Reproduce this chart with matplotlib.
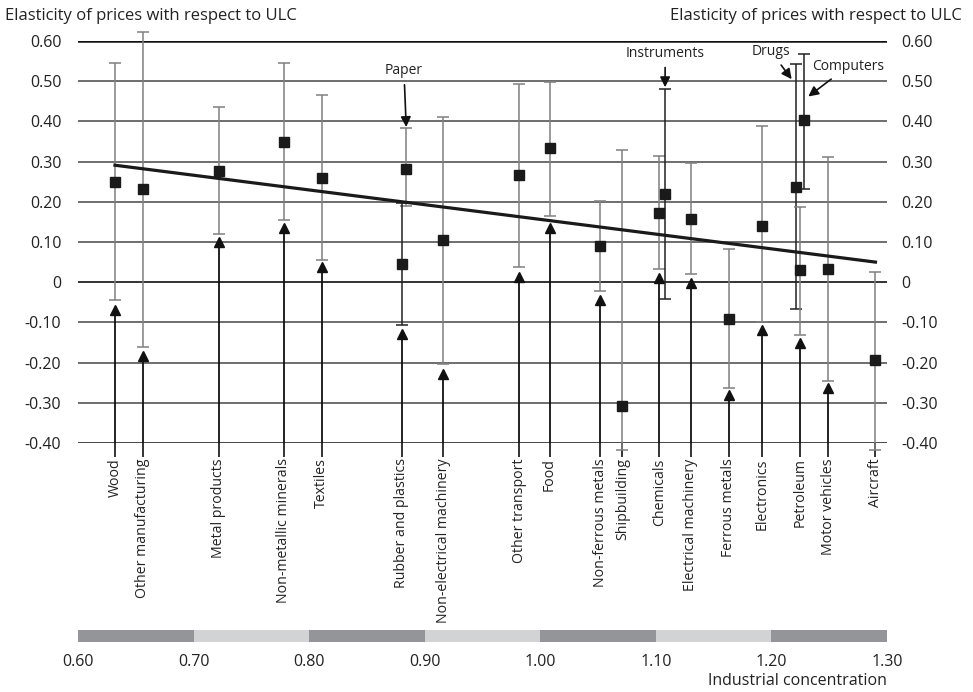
import numpy as np
import matplotlib
matplotlib.use('Agg')
import matplotlib.pyplot as plt

plt.rcParams['font.family'] = ['Open Sans', 'DejaVu Sans']

# industries, concentration (x), point estimate (square), interval, lower estimate (triangle)
industries = ['Wood', 'Other manufacturing', 'Metal products', 'Non-metallic minerals',
              'Textiles', 'Paper', 'Rubber and plastics', 'Non-electrical machinery',
              'Other transport', 'Food', 'Non-ferrous metals', 'Shipbuilding',
              'Chemicals', 'Instruments', 'Electrical machinery', 'Ferrous metals',
              'Electronics', 'Drugs', 'Petroleum', 'Computers', 'Motor vehicles', 'Aircraft']
concentration = [0.632, 0.656, 0.722, 0.778, 0.811, 0.884, 0.880, 0.916,
                 0.982, 1.008, 1.052, 1.071, 1.103, 1.108, 1.130, 1.163,
                 1.192, 1.221, 1.225, 1.228, 1.249, 1.290]
elasticity = [0.249, 0.232, 0.277, 0.349, 0.259, 0.282, 0.046, 0.104,
              0.267, 0.335, 0.089, -0.307, 0.173, 0.220, 0.157, -0.092,
              0.141, 0.238, 0.031, 0.404, 0.033, -0.193]
upper = [0.546, 0.622, 0.435, 0.545, 0.466, 0.383, 0.197, 0.411,
         0.494, 0.498, 0.201, 0.330, 0.313, 0.481, 0.296, 0.083,
         0.388, 0.543, 0.187, 0.568, 0.311, 0.026]
lower = [-0.044, -0.160, 0.121, 0.155, 0.056, 0.189, -0.107, -0.204,
         0.037, 0.165, -0.021, -0.417, 0.033, -0.042, 0.021, -0.263,
         -0.100, -0.067, -0.131, 0.232, -0.247, -0.417]
triangle = [-0.068, -0.183, 0.099, 0.135, 0.038, np.nan, -0.128, -0.228,
            0.014, 0.136, -0.044, np.nan, 0.010, np.nan, -0.002, -0.280,
            -0.120, np.nan, -0.151, np.nan, -0.263, np.nan]

# industries labelled with arrows at the top instead of below the axis
top_labels = ['Paper', 'Instruments', 'Drugs', 'Computers']
dark_bars = ['Rubber and plastics', 'Instruments', 'Drugs', 'Computers']

# regression line end points
fit_x = [0.632, 1.290]
fit_y = [0.291, 0.050]

yticks = [-0.4, -0.3, -0.2, -0.1, 0.0, 0.1, 0.2, 0.3, 0.4, 0.5, 0.6]
ylabels = ['-0.40', '-0.30', '-0.20', '-0.10', '0', '0.10', '0.20', '0.30', '0.40', '0.50', '0.60']
band_edges = [0.6, 0.7, 0.8, 0.9, 1.0, 1.1, 1.2, 1.3]
xlabels = ['0.60', '0.70', '0.80', '0.90', '1.00', '1.10', '1.20', '1.30']

W, H = 973, 692
fig = plt.figure(figsize=(W / 100, H / 100), dpi=100)
x0, x1, ytop, ybot = 78, 887, 41, 443
ax = fig.add_axes([x0 / W, 1 - ybot / H, (x1 - x0) / W, (ybot - ytop) / H])
ax.set_xlim(0.6, 1.3)
ax.set_ylim(-0.4, 0.6)
for s in ax.spines.values():
    s.set_visible(False)

for yv in yticks:
    if yv in (-0.4, 0.6):
        ax.axhline(yv, color='#111111', lw=1.8, zorder=1)
    elif yv == 0.0:
        ax.axhline(yv, color='#222222', lw=1.3, zorder=1)
    else:
        ax.axhline(yv, color='#555555', lw=1.2, zorder=1)

ax.set_yticks(yticks)
ax.set_yticklabels(ylabels, fontsize=11.5, color='#222222')
ax.tick_params(axis='y', length=0, pad=12)
ax2 = ax.twinx()
ax2.set_ylim(-0.4, 0.6)
ax2.set_yticks(yticks)
ax2.set_yticklabels(ylabels, fontsize=11.5, color='#222222')
ax2.tick_params(axis='y', length=0, pad=10)
for s in ax2.spines.values():
    s.set_visible(False)

# bottom tick labels for industries
bx = [c for c, n in zip(concentration, industries) if n not in top_labels]
bn = [n for n in industries if n not in top_labels]
ax.set_xticks(bx)
ax.set_xticklabels(bn, rotation=90, fontsize=10.2, color='#222222', va='top')
ax.tick_params(axis='x', direction='out', length=10, width=1.2, color='#111111', pad=1)

# triangles with stems from the bottom
for xv, tv in zip(concentration, triangle):
    if np.isnan(tv):
        continue
    ax.vlines(xv, -0.4, tv, color='#111111', lw=1.3, zorder=3)
    ax.plot(xv, tv, marker='^', ms=7.5, color='#111111', zorder=4, clip_on=False)

# point estimates with intervals
for n, xv, yv, hi, lo in zip(industries, concentration, elasticity, upper, lower):
    c = '#222222' if n in dark_bars else '#808080'
    ax.errorbar(xv, yv, yerr=[[yv - lo], [hi - yv]], fmt='s', ms=7.5, mfc='#1a1a1a',
                mec='#1a1a1a', ecolor=c, elinewidth=1.1, capsize=4, capthick=1.1,
                zorder=5, clip_on=False)

ax.plot(fit_x, fit_y, color='#1a1a1a', lw=2.3, zorder=6)

# arrow annotations
arrow = dict(arrowstyle='-|>', color='#111111', lw=1.2, mutation_scale=15, shrinkA=3, shrinkB=0)
ax.annotate('Paper', xy=(0.884, 0.386), xytext=(0.882, 0.527), ha='center', va='center',
            fontsize=10, color='#222222', arrowprops=arrow)
ax.annotate('Instruments', xy=(1.108, 0.485), xytext=(1.108, 0.570), ha='center', va='center',
            fontsize=10, color='#222222', arrowprops=arrow)
ax.annotate('Drugs', xy=(1.2175, 0.505), xytext=(1.1996, 0.574), ha='center', va='center',
            fontsize=10, color='#222222', arrowprops=arrow)
ax.annotate('Computers', xy=(1.2319, 0.462), xytext=(1.2663, 0.537), ha='center', va='center',
            fontsize=10, color='#222222', arrowprops=arrow)

fig.text(5 / W, 1 - 16 / H, 'Elasticity of prices with respect to ULC', ha='left', va='center',
         fontsize=12, color='#222222')
fig.text(962 / W, 1 - 16 / H, 'Elasticity of prices with respect to ULC', ha='right', va='center',
         fontsize=12, color='#222222')

# concentration scale bar
axb = fig.add_axes([x0 / W, 1 - 642 / H, (x1 - x0) / W, 12 / H])
for i in range(len(band_edges) - 1):
    col = '#939598' if i % 2 == 0 else '#d1d3d4'
    axb.axvspan(band_edges[i], band_edges[i + 1], color=col, lw=0)
axb.set_xlim(0.6, 1.3)
axb.set_ylim(0, 1)
axb.set_yticks([])
axb.set_xticks(band_edges)
axb.set_xticklabels(xlabels, fontsize=11.5, color='#222222')
axb.tick_params(axis='x', length=0, pad=9)
for s in axb.spines.values():
    s.set_visible(False)
fig.text(887 / W, 1 - 681 / H, 'Industrial concentration', ha='right', va='center',
         fontsize=11.5, color='#222222')

fig.savefig('out.png', dpi=100)
